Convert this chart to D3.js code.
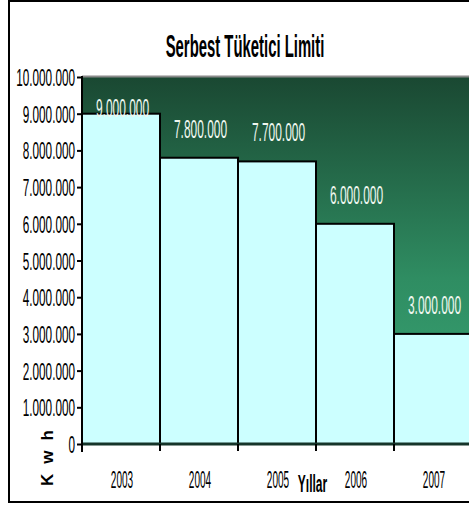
<!DOCTYPE html>
<html>
<head>
<meta charset="utf-8">
<script src="https://cdn.jsdelivr.net/npm/d3@7"></script>
<style>
  body { margin: 0; background: #fff; }
  svg { display: block; }
  text { font-family: "Liberation Sans", Arial, sans-serif; }
</style>
</head>
<body>
<div id="chart"></div>
<script>
// Serbest Tuketici Limiti - bar chart

var years = [ "2003", "2004", "2005", "2006", "2007" ];
var limits = [ 9000000, 7800000, 7700000, 6000000, 3000000 ];
var yTicks = [ 0, 1000000, 2000000, 3000000, 4000000, 5000000,
               6000000, 7000000, 8000000, 9000000, 10000000 ];

var WIDTH = 469;
var HEIGHT = 506;

var LEFT = 82;
var RIGHT = 472;
var TOP = 77;
var BOTTOM = 444;

// excel style thousands: 9.000.000
function trFormat(v) {
    return d3.format(",")(v).replace(/,/g, ".");
}

// narrow text: anchor point (px, py), horizontal squeeze sx
function narrow(px, py, sx) {
    return "translate(" + px + "," + py + ") scale(" + sx + ",1)";
}

var svg = d3.select("#chart").append("svg")
    .attr("width", WIDTH)
    .attr("height", HEIGHT);

var defs = svg.append("defs");
var grad = defs.append("linearGradient")
    .attr("id", "bg")
    .attr("x1", 0).attr("y1", 0)
    .attr("x2", 0).attr("y2", 1);
grad.append("stop").attr("offset", "0%").attr("stop-color", "#1a4832");
grad.append("stop").attr("offset", "55%").attr("stop-color", "#2f8d62");
grad.append("stop").attr("offset", "100%").attr("stop-color", "#3aa777");

// outer frame
svg.append("rect")
    .attr("x", 9)
    .attr("y", 1)
    .attr("width", WIDTH + 10)
    .attr("height", 501)
    .attr("fill", "#fff")
    .attr("stroke", "#000")
    .attr("stroke-width", 2);

var x = d3.scaleBand()
    .domain(years)
    .range([ LEFT, RIGHT ])
    .paddingInner(0)
    .paddingOuter(0);

var y = d3.scaleLinear()
    .domain([ 0, 10000000 ])
    .range([ BOTTOM, TOP ]);

// plot area
svg.append("rect")
    .attr("x", LEFT)
    .attr("y", TOP)
    .attr("width", RIGHT - LEFT)
    .attr("height", BOTTOM - TOP)
    .attr("fill", "url(#bg)");

svg.append("line")
    .attr("x1", LEFT).attr("x2", RIGHT)
    .attr("y1", TOP - 0.5).attr("y2", TOP - 0.5)
    .attr("stroke", "#8a8a8a")
    .attr("stroke-width", 2);

// bars
svg.selectAll("rect.bar")
    .data(limits)
    .enter()
    .append("rect")
    .attr("class", "bar")
    .attr("x", function(d, i) { return x(years[i]); })
    .attr("y", function(d) { return y(d); })
    .attr("width", x.bandwidth())
    .attr("height", function(d) { return BOTTOM - y(d); })
    .attr("fill", "#ccffff")
    .attr("stroke", "#000")
    .attr("stroke-width", 2);

// value labels
svg.selectAll("text.val")
    .data(limits)
    .enter()
    .append("text")
    .attr("class", "val")
    .attr("transform", function(d, i) {
        var cx = x(years[i]) + x.bandwidth() / 2 + 1.5;
        var cy = Math.max(y(d) - 20, TOP + 40);
        return narrow(cx, cy, 0.46);
    })
    .attr("text-anchor", "middle")
    .attr("font-size", 26)
    .attr("fill", "#eef6ee")
    .text(trFormat);

// zero line
svg.append("line")
    .attr("x1", LEFT).attr("x2", RIGHT)
    .attr("y1", BOTTOM).attr("y2", BOTTOM)
    .attr("stroke", "#15352a")
    .attr("stroke-width", 3);

// y axis
var yAxis = svg.append("g")
    .attr("transform", "translate(" + LEFT + ",0)")
    .call(d3.axisLeft(y)
        .tickValues(yTicks)
        .tickSizeInner(5)
        .tickSizeOuter(0)
        .tickFormat(trFormat));

yAxis.select(".domain")
    .attr("stroke", "#000")
    .attr("stroke-width", 2)
    .attr("d", "M0," + (TOP - 1) + "V" + (BOTTOM + 8));
yAxis.selectAll(".tick line")
    .attr("stroke", "#000")
    .attr("stroke-width", 2);
yAxis.selectAll(".tick text")
    .attr("x", null)
    .attr("dy", null)
    .attr("transform", narrow(-7, 8.5, 0.5))
    .attr("font-family", "Liberation Sans, Arial, sans-serif")
    .attr("font-size", 23.5)
    .attr("fill", "#000");

// x ticks at band boundaries
svg.selectAll("line.xtick")
    .data(years)
    .enter()
    .append("line")
    .attr("class", "xtick")
    .attr("x1", function(d) { return x(d); })
    .attr("x2", function(d) { return x(d); })
    .attr("y1", BOTTOM)
    .attr("y2", BOTTOM + 7)
    .attr("stroke", "#000")
    .attr("stroke-width", 2);

svg.selectAll("text.year")
    .data(years)
    .enter()
    .append("text")
    .attr("class", "year")
    .attr("transform", function(d) {
        return narrow(x(d) + x.bandwidth() / 2 + 1, 488, 0.41);
    })
    .attr("text-anchor", "middle")
    .attr("font-size", 24.5)
    .attr("fill", "#000")
    .text(function(d) { return d; });

// titles
svg.append("text")
    .attr("transform", narrow(245, 57, 0.465))
    .attr("text-anchor", "middle")
    .attr("font-size", 32)
    .attr("font-weight", "bold")
    .attr("fill", "#000")
    .text("Serbest Tüketici Limiti");

svg.append("text")
    .attr("transform", narrow(312.5, 492, 0.5))
    .attr("text-anchor", "middle")
    .attr("font-size", 24)
    .attr("font-weight", "bold")
    .attr("fill", "#000")
    .text("Yıllar");

svg.append("text")
    .attr("transform", "translate(53,453) rotate(-90)")
    .attr("text-anchor", "middle")
    .attr("font-size", 17)
    .attr("font-weight", "bold")
    .attr("fill", "#000")
    .attr("letter-spacing", 10)
    .text("Kwh");
</script>
</body>
</html>
